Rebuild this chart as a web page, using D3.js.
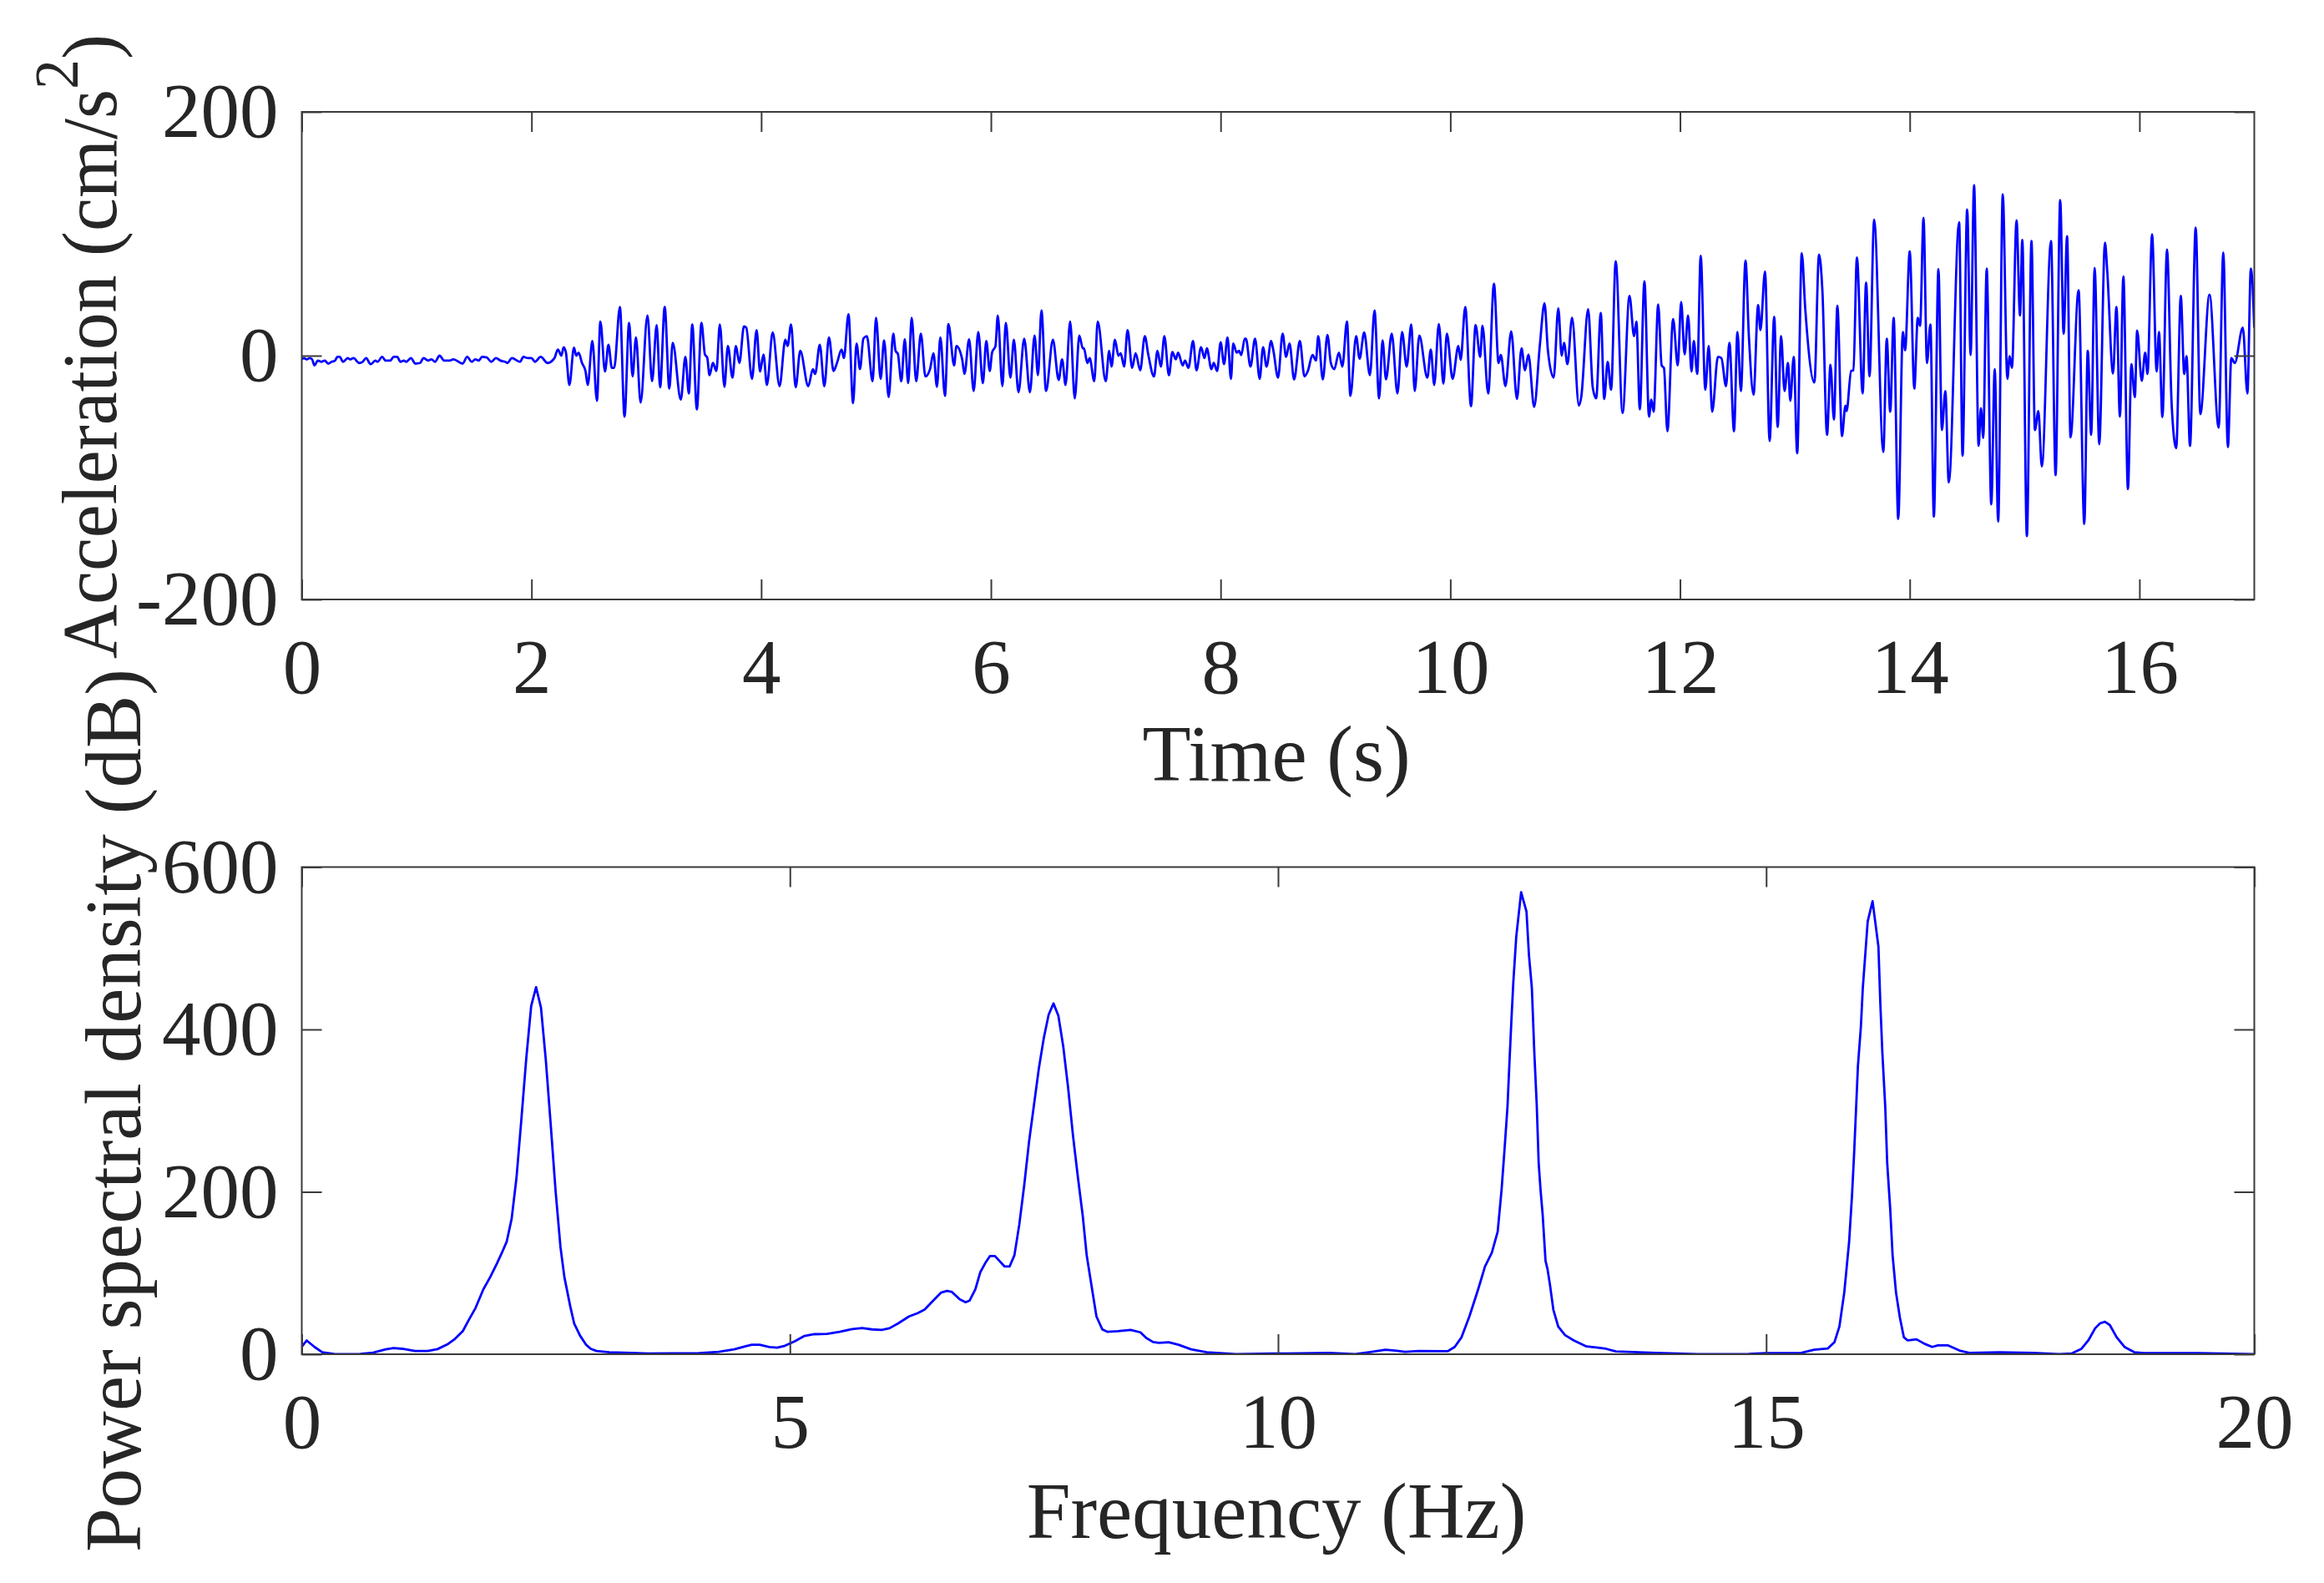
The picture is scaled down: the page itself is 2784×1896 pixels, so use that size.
<!DOCTYPE html>
<html><head><meta charset="utf-8">
<script src="https://cdnjs.cloudflare.com/ajax/libs/d3/7.8.5/d3.min.js"></script>
<style>html,body{margin:0;padding:0;background:#fff}svg{display:block}</style>
</head><body><div id="c"></div>
<script>
const accelTime=[0,.02,.04,.07,.09,.11,.14,.17,.20,.23,.26,.29,.31,.33,.36,.40,.42,.45,.50,.53,.56,.60,.64,.66,.70,.73,.77,.80,.83,.86,.89,.91,.95,.99,1.03,1.06,1.10,1.13,1.16,1.20,1.24,1.29,1.32,1.40,1.44,1.48,1.51,1.54,1.57,1.61,1.65,1.69,1.73,1.77,1.79,1.83,1.90,1.93,1.97,2.00,2.03,2.08,2.14,2.20,2.23,2.26,2.28,2.30,2.33,2.37,2.39,2.41,2.44,2.47,2.49,2.53,2.57,2.60,2.64,2.67,2.70,2.72,2.77,2.81,2.85,2.88,2.91,2.95,3.01,3.05,3.09,3.12,3.16,3.20,3.23,3.30,3.34,3.37,3.40,3.44,3.48,3.51,3.53,3.55,3.58,3.61,3.64,3.68,3.71,3.75,3.78,3.81,3.85,3.87,3.92,3.96,3.99,4.02,4.05,4.10,4.16,4.21,4.23,4.26,4.30,4.34,4.41,4.45,4.47,4.51,4.55,4.59,4.63,4.66,4.70,4.72,4.76,4.80,4.83,4.86,4.89,4.92,4.97,5.00,5.04,5.07,5.11,5.15,5.17,5.19,5.22,5.25,5.28,5.31,5.35,5.39,5.43,5.47,5.50,5.53,5.56,5.60,5.63,5.68,5.70,5.75,5.77,5.81,5.85,5.89,5.93,5.96,5.99,6.01,6.04,6.06,6.10,6.13,6.17,6.20,6.24,6.29,6.34,6.38,6.41,6.44,6.48,6.54,6.59,6.62,6.65,6.69,6.73,6.77,6.80,6.81,6.84,6.86,6.90,6.93,7.00,7.03,7.05,7.08,7.11,7.13,7.16,7.19,7.23,7.26,7.30,7.34,7.37,7.42,7.45,7.48,7.51,7.55,7.58,7.61,7.63,7.67,7.69,7.72,7.76,7.79,7.83,7.86,7.88,7.92,7.94,7.97,8.00,8.03,8.06,8.09,8.11,8.14,8.16,8.18,8.21,8.22,8.26,8.30,8.34,8.37,8.40,8.44,8.46,8.50,8.54,8.57,8.60,8.64,8.69,8.73,8.76,8.80,8.83,8.85,8.89,8.93,8.96,8.99,9.03,9.06,9.10,9.13,9.18,9.21,9.25,9.30,9.34,9.38,9.41,9.44,9.49,9.54,9.58,9.62,9.66,9.69,9.73,9.80,9.83,9.86,9.90,9.94,9.97,10.02,10.07,10.09,10.13,10.18,10.22,10.26,10.28,10.33,10.38,10.42,10.44,10.48,10.53,10.58,10.62,10.65,10.68,10.73,10.78,10.82,10.85,10.90,10.94,10.97,10.99,11.02,11.06,11.12,11.14,11.20,11.24,11.27,11.31,11.34,11.37,11.40,11.44,11.50,11.56,11.60,11.62,11.65,11.69,11.73,11.75,11.77,11.81,11.84,11.86,11.89,11.94,11.98,12.01,12.04,12.07,12.10,12.12,12.15,12.18,12.22,12.25,12.28,12.33,12.36,12.40,12.43,12.47,12.50,12.53,12.57,12.60,12.64,12.68,12.70,12.74,12.78,12.82,12.85,12.88,12.91,12.94,12.96,12.99,13.02,13.06,13.09,13.17,13.21,13.24,13.28,13.31,13.34,13.37,13.41,13.44,13.45,13.49,13.51,13.54,13.59,13.62,13.65,13.69,13.77,13.80,13.83,13.86,13.90,13.94,13.96,14.00,14.04,14.07,14.09,14.12,14.15,14.18,14.21,14.25,14.28,14.31,14.34,14.43,14.46,14.50,14.53,14.56,14.60,14.62,14.64,14.67,14.71,14.74,14.77,14.81,14.85,14.87,14.89,14.93,14.96,14.98,15.02,15.06,15.09,15.12,15.15,15.23,15.27,15.31,15.34,15.37,15.40,15.47,15.52,15.55,15.58,15.61,15.65,15.70,15.72,15.77,15.80,15.83,15.86,15.90,15.93,15.96,15.98,16.02,16.05,16.07,16.11,16.15,16.17,16.20,16.24,16.28,16.32,16.36,16.39,16.41,16.44,16.49,16.53,16.61,16.69,16.73,16.77,16.80,16.83,16.90,16.94,16.97,17.00];
const accelValue=[-3,-2,-3,-2,-3,-8,-4,-5,-4,-6.5,-5,-4,-1,-1,-5,-2,-3,-2,-6,-5,-2,-7,-4,-5,-1,-4,-4,-1,-1,-5,-4,-5,-2,-6.5,-6,-2,-4,-3,-5,0,-4,-4,-3,-6.5,-1,-5,-3,-4,-1,-1.5,-5,-2,-4,-5,-6,-2,-5,-1,-2,-2,-5,-1,-6,-2,5,0,7,2.5,-24,6.5,0,2.5,-6,-12.5,-24,12,-37,28,-13,9,-10,-10,40,-50,27,-17,15,-38.5,33,-21,25,-26,40,-27,10.5,-36,-1,-31,25.5,-44,27,1,-1.5,-16,-6,-12.5,25.5,-25.5,8,-18,8,-6,24,23,-19,21,-13,1,-24,19,-25,13,8,25.5,-26,4,-25,-11,-15,9,-25,15,-12.5,-6,5,-2,34,-39,10,-11,14,16,-21,31,-19,12.5,-34,18,4,1.5,-21,13.5,-22.5,31,-21,18,-17,-11,2,-25.5,15,-33,26,-8,8,-3,-15,13.5,-29,19.5,-22.5,12,-12.5,2.5,8,33,-25,27,-18,13,-30,14,-30,16.5,-16,37,-29,13,-20,-3,-24,28,-35,16.5,6,6,-6,-2,-21,28,-21,4,-9,13,0,2,-9,21,-10,2,-12,16,1,-17,4,-9,16,-16,3,-3,2.5,-8,-4,-10,12,-12,7,-2,6,-11,-6,-12.5,11,-7,15,-19,10,2.5,4,0.5,14,14,-9,14,-19,7,-9,12,4,-18,18,-1,10,-19.5,12,-17,-12.5,0.5,-4,16,-19.5,17,-6,-11,2.5,-9,28,-33,16,-2.5,19,-16,37,-35,12.5,-19.5,18,-31,19.5,-9,25.5,-29,16.5,-18,5,-24,26,-23,18,-19,8,-3.5,40,-41.5,25,-1,24.5,-31,59,-6,0.5,-25,20,-35.5,6,-12,1,-42,9,43,4,-18,39,0,10.5,-7,31,-41,-34,38,-26,-35,35,-35.5,-5,-28,77.5,-47,49,16,28,-44,61,-50,-36,-46,42,-8,-10,-62,30,-8,44,1,33,-13,12,-15,82,-28,8,-46,-1,-2,-25,10.5,-62,19.5,-29,78,15,-32,41.5,21,69,-70,32,-58.5,16,-29,-6,-37,-1,-80,84,39,-22,83,52.5,-65,-7.5,-52.5,41,-66,-41,-45.5,-12.5,-12,80.5,-31,60,-17,111.5,-79,14,-46,31,-134,19.5,4.5,85.6,-27,31,24.5,113,-6,25.5,-132,71,-61,-29,-104,109.5,-82,120,0.5,140,-74,-43,-67.5,71.5,-122,-11,-136,132.5,-19,-0.5,-10,111,33,95,-148,94,-61,-45.5,-91,94,-98,127.6,18,98,-67,53.7,-138,4,-65,72,-72.6,92.7,69,-14.6,40,-50,65,-109.5,-7,-34,20.6,-20.6,2.4,-15,99.5,-13,19.5,-50.4,87,-39,-76,49,-15,-0.5,-74,105,-48,50,-59,84.6,-75,-2,-6,23,-31,71.5,23];
const psdFreq=[0,.05,.13,.21,.34,.60,.73,.86,.94,1.03,1.16,1.29,1.39,1.49,1.57,1.65,1.71,1.78,1.86,1.93,2.00,2.05,2.10,2.15,2.20,2.25,2.30,2.35,2.40,2.45,2.50,2.55,2.60,2.65,2.69,2.75,2.79,2.85,2.91,2.96,3.02,3.15,3.55,4.07,4.27,4.43,4.54,4.61,4.69,4.79,4.87,4.95,5.05,5.15,5.25,5.38,5.51,5.64,5.74,5.84,5.94,6.02,6.11,6.22,6.31,6.38,6.46,6.55,6.61,6.66,6.74,6.80,6.84,6.90,6.95,
7.00,7.05,7.10,7.20,7.25,7.30,7.35,7.40,7.45,7.50,7.55,7.60,7.65,7.70,7.75,7.80,7.85,7.90,7.95,8.00,8.04,8.09,8.14,8.20,
8.25,8.36,8.49,8.59,8.65,8.72,8.78,8.88,8.98,9.11,9.27,9.57,10.00,10.08,10.52,10.79,10.96,11.10,11.20,11.30,11.44,11.74,11.81,11.88,11.96,12.05,
12.12,12.19,12.25,12.29,12.32,12.35,12.37,12.39,12.41,12.44,12.49,12.545,12.57,12.60,12.625,12.65,12.67,12.69,12.71,12.74,12.76,12.785,12.82,12.87,12.94,13.03,13.16,13.26,13.36,13.46,13.87,14.34,14.82,15.00,15.36,15.49,15.63,15.70,15.75,
15.80,15.85,15.88,15.90,15.92,15.94,15.97,15.99,16.04,16.09,16.15,16.17,16.19,16.22,16.24,16.27,16.295,16.33,16.37,16.41,16.45,16.54,
16.62,16.70,16.76,16.86,16.98,17.08,17.39,17.73,18.00,18.13,18.23,18.30,18.37,18.42,18.47,18.52,18.59,18.67,18.77,18.87,19.42,20];
const psdValue=[9,17,9,2.5,0,.4,2,6,7.5,6.7,4,4,6.3,12,19,28.5,42,57,80,95,112,125,139,167,218,290,365,429,452,427,362,283,201,132,95,59,38,23,12,6.7,4,2.5,1,1.3,3,6,9.6,11.7,11.7,8.8,8,10.5,16,22.6,24.7,25,27.7,31,32.3,30.6,30,32,38,46.5,50.7,55,65,76,78,76.7,67.5,64,66,80,101,
112,121,121,108,108,122,160,208,262,307,352,389,418,432,417,379,328,269,218,170,122,84,46.5,30.6,
27.7,28.5,30,27,20,15,14,14.7,11.7,6,2.5,0,1,1,1.7,0,3,5.5,4.6,3,4,3.8,9,21,46.5,80,
108,125,151,203,252,304,358,410,458,514,569,545,492,451,372,307,235,201,173,115,105,86,55,34,23.5,17,9.6,8.4,6.7,3.4,1.7,0,.4,1.3,1.7,5.5,7,15,34,
76,139,197,245,300,355,403,451,533,558,502,430,372,304,235,180,122,76,45,21,17,18.4,
13,9,11,11,4.6,1.7,2.5,1.7,0,1,6.7,17,32,38,40,36,21,9,2.5,1.3,1.3,0];
const topXTicks=[0,2,4,6,8,10,12,14,16];
const topYTicks=[-200,0,200];
const botXTicks=[0,5,10,15,20];
const botYTicks=[0,200,400,600];

const W=2784,H=1896,FS=93,LS=95,INK='#262626',AX='#3a3a3a';
const L=361.5,R=2700.5;
const svg=d3.select('#c').append('svg').attr('width',W).attr('height',H).attr('viewBox',`0 0 ${W} ${H}`)
  .style('font-family','"Liberation Serif","Times New Roman",serif');
svg.append('rect').attr('width',W).attr('height',H).attr('fill','#fff');

function panel(top,bottom,xDom,yDom,xt,yt,xs,ys,curve){
  const x=d3.scaleLinear().domain(xDom).range([L,R]);
  const y=d3.scaleLinear().domain(yDom).range([bottom,top]);
  const g=svg.append('g');
  const clipId='clip'+Math.round(top);
  g.append('clipPath').attr('id',clipId).append('rect').attr('x',L).attr('y',top).attr('width',R-L).attr('height',bottom-top);
  g.append('path').datum(d3.range(xs.length))
    .attr('clip-path',`url(#${clipId})`)
    .attr('fill','none').attr('stroke','#0000ff').attr('stroke-width',2.8).attr('stroke-linejoin','round')
    .attr('d',d3.line().curve(curve).x(i=>x(xs[i])).y(i=>y(ys[i])));
  const style=s=>{s.selectAll('.domain').remove();
    s.selectAll('line').attr('stroke',AX).attr('stroke-width',2);
    s.selectAll('text').attr('fill',INK).attr('font-size',FS).attr('font-family','"Liberation Serif"');};
  const fmt=d=>String(d);
  g.append('g').attr('transform',`translate(0,${bottom})`)
    .call(d3.axisBottom(x).tickValues(xt).tickSizeInner(-24).tickSizeOuter(0).tickPadding(46).tickFormat(fmt)).call(style);
  g.append('g').attr('transform',`translate(0,${top})`)
    .call(d3.axisTop(x).tickValues(xt).tickSizeInner(-24).tickSizeOuter(0).tickFormat('')).call(style);
  g.append('g').attr('transform',`translate(${L},0)`)
    .call(d3.axisLeft(y).tickValues(yt).tickSizeInner(-24).tickSizeOuter(0).tickPadding(28).tickFormat(fmt)).call(style);
  g.append('g').attr('transform',`translate(${R},0)`)
    .call(d3.axisRight(y).tickValues(yt).tickSizeInner(-24).tickSizeOuter(0).tickFormat('')).call(style);
  g.append('rect').attr('x',L).attr('y',top).attr('width',R-L).attr('height',bottom-top)
    .attr('fill','none').attr('stroke',AX).attr('stroke-width',2);
}
panel(134,718,[0,17],[-200,200],topXTicks,topYTicks,accelTime,accelValue,d3.curveMonotoneX);
panel(1038.5,1622,[0,20],[0,600],botXTicks,botYTicks,psdFreq,psdValue,d3.curveLinear);

function txt(x,y,anchor,rot,size,extra){
  return svg.append('text').attr('text-anchor',anchor).attr('transform',`translate(${x},${y}) rotate(${rot})${extra||''}`)
    .attr('fill',INK).attr('font-size',size);
}
txt(1529,935,'middle',0,LS).text('Time (s)');
txt(1529,1842,'middle',0,LS).text('Frequency (Hz)');
const a=txt(139,789,'start',-90,90,' scale(1,1.04)');
a.append('tspan').text('Acceleration (cm/s');
a.append('tspan').attr('dy',-44).attr('font-size',72).text('2');
a.append('tspan').attr('dy',44).text(')');
txt(168,1330,'middle',-90,LS).text('Power spectral density (dB)');
</script></body></html>
